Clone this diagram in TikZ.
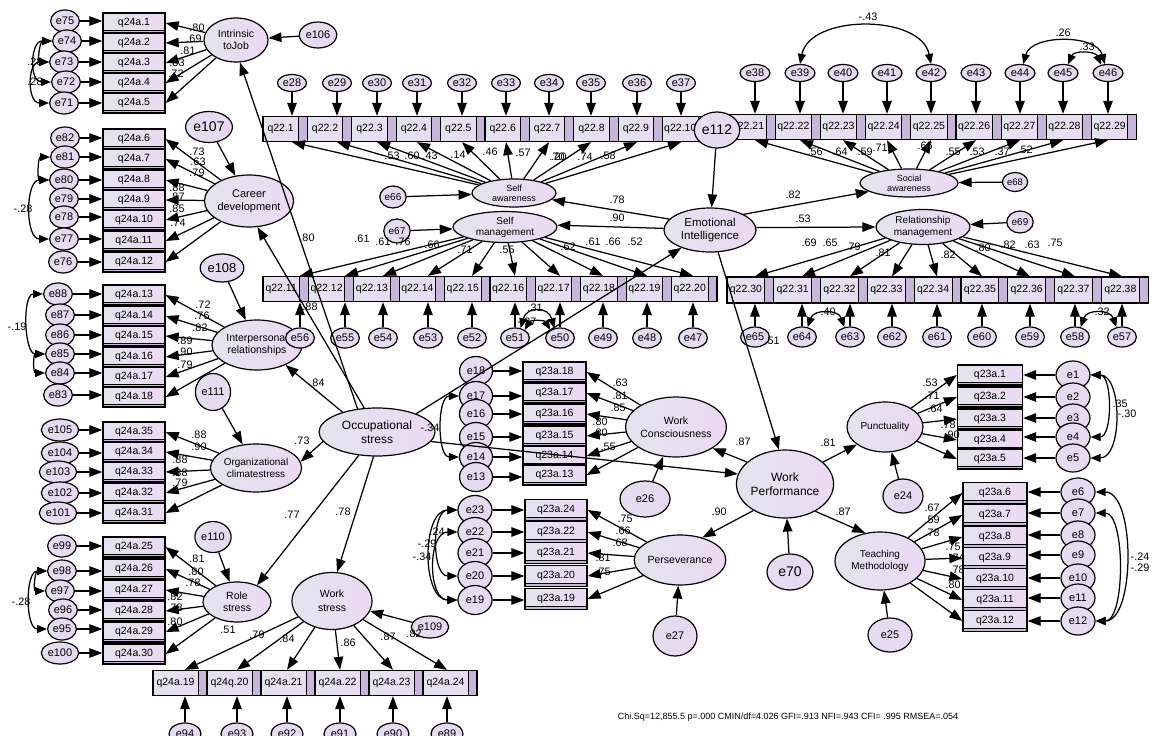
\documentclass[tikz,border=0pt]{standalone}
\usepackage{fontspec}
\setmainfont{Liberation Sans}
\usetikzlibrary{arrows.meta,shapes.geometric,calc}
\definecolor{fl}{HTML}{E2E4EE}
\definecolor{fr}{HTML}{EDD9F3}
\definecolor{strip}{HTML}{C8B6DA}
\definecolor{ef}{HTML}{E8D8F1}
\newcommand\lbx[2]{\hbox to #1pt{\hss #2\hss}\kern9pt}
\tikzset{
  ar/.style={-{Triangle[length=13pt,width=9.5pt]},line width=1.25pt},
  cv/.style={{Triangle[length=10pt,width=8pt]}-{Triangle[length=10pt,width=8pt]},line width=1.25pt},
  ind/.style={draw,line width=1.3pt,rectangle,left color=fl,right color=fr,inner sep=0pt,font=\fontsize{10.5}{11}\selectfont},
  indb/.style={ind,minimum width=62,minimum height=20,path picture={\fill[strip] (path picture bounding box.south west) rectangle ([yshift=3pt]path picture bounding box.south east);\draw[line width=0.7pt] ([yshift=3pt]path picture bounding box.south west) -- ([yshift=3pt]path picture bounding box.south east);}},
  indr/.style={ind,minimum height=25,path picture={\fill[strip] ([xshift=-9pt]path picture bounding box.north east) rectangle (path picture bounding box.south east);\draw[line width=1pt] ([xshift=-9pt]path picture bounding box.north east) -- ([xshift=-9pt]path picture bounding box.south east);}},
  err/.style={draw,ellipse,line width=1.2pt,left color=fl!50!ef,right color=ef,inner sep=1pt,minimum width=27,minimum height=22,font=\fontsize{11}{12}\selectfont},
  errs/.style={err,minimum width=29,minimum height=17,inner ysep=0pt},
  errc/.style={err,minimum width=33,minimum height=29},
  lat/.style={draw,ellipse,line width=1.2pt,left color=fl,right color=fr,inner sep=0pt,align=center,font=\fontsize{10.5}{12}\selectfont},
  lab/.style={inner sep=0pt,font=\fontsize{10.8}{11}\selectfont},
}
\begin{document}
\begin{tikzpicture}[x=1pt,y=-1pt]
\useasboundingbox (0,0) rectangle (1154,736);
% ---------- latent variables
\node[lat,minimum width=64,minimum height=44] (ij) at (236,40) {Intrinsic\\toJob};
\node[lat,minimum width=88,minimum height=52,font=\fontsize{11}{13}\selectfont] (cd) at (249,201) {Career\\development};
\node[lat,minimum width=90,minimum height=50] (ip) at (257,345) {Interpersonal\\relationships};
\node[lat,minimum width=88,minimum height=48,font=\fontsize{10}{12}\selectfont] (oc) at (256,468) {Organizational\\climatestress};
\node[lat,minimum width=68,minimum height=40,font=\fontsize{10.5}{12}\selectfont] (rs) at (237,602) {Role\\stress};
\node[lat,minimum width=80,minimum height=57,font=\fontsize{10.5}{14}\selectfont] (ws) at (332,601) {Work\\stress};
\node[lat,minimum width=116,minimum height=48,font=\fontsize{12}{14}\selectfont] (os) at (377,432) {Occupational\\stress};
\node[lat,minimum width=84,minimum height=28,font=\fontsize{9}{10}\selectfont] (sa) at (514,193) {Self\\awareness};
\node[lat,minimum width=104,minimum height=31,font=\fontsize{10}{11}\selectfont] (sm) at (505,227) {Self\\management};
\node[lat,minimum width=92,minimum height=44,font=\fontsize{11.5}{13}\selectfont] (ei) at (710,230) {Emotional\\Intelligence};
\node[lat,minimum width=98,minimum height=28,font=\fontsize{9}{10}\selectfont] (soa) at (909,183) {Social\\awareness};
\node[lat,minimum width=94,minimum height=35,font=\fontsize{10}{11.5}\selectfont] (rm) at (923,227) {Relationship\\management};
\node[lat,minimum width=96,minimum height=60,font=\fontsize{10.5}{13}\selectfont] (wc) at (676,427) {Work\\Consciousness};
\node[lat,minimum width=86,minimum height=50,font=\fontsize{10.5}{12}\selectfont] (pe) at (680,560) {Perseverance};
\node[lat,minimum width=92,minimum height=68,font=\fontsize{12}{14}\selectfont] (wp) at (785,484) {Work\\Performance};
\node[lat,minimum width=76,minimum height=50,font=\fontsize{10}{12}\selectfont] (pu) at (885,427) {Punctuality};
\node[lat,minimum width=90,minimum height=58,font=\fontsize{10}{12}\selectfont] (tm) at (880,561) {Teaching\\Methodology};
% ---------- left columns
\foreach \b/\y in {1/23,2/43,3/63,4/83,5/103,6/139,7/159,8/180,9/200,10/220,11/241,12/262,13/295,14/316,15/336,16/357,17/377,18/397,35/432,34/452,33/472,32/493,31/513,25/547,26/569,27/590,28/611,29/632,30/654}
  \node[indb] (a\b) at (134,\y) {q24a.\b};
\foreach \n/\x/\y/\b in {75/65/21/1,74/67/41/2,73/64/62/3,72/66/82/4,71/64/103/5,82/65/138/6,81/65/157/7,80/64/180/8,79/64/199/9,78/64/217/10,77/64/239/11,76/63/262/12,88/58/294/13,87/60/315/14,86/60/335/15,85/60/354/16,84/60/373/17,83/58/395/18,105/60/430/35,104/60/453/34,103/58/472/33,102/60/493/32,101/58/513/31,99/62/546/25,98/62/571/26,97/60/591/27,96/63/610/28,95/62/629/29,100/60/653/30}
  {\node[err] (e\n) at (\x,\y) {e\n}; \draw[ar] (e\n) -- (e\n -| a\b.west);}
\foreach \b in {1,...,5} \draw[ar] (ij) -- (a\b.east);
\foreach \b in {6,...,12} \draw[ar] (cd) -- (a\b.east);
\foreach \b in {13,...,18} \draw[ar] (ip) -- (a\b.east);
\foreach \b in {31,...,35} \draw[ar] (oc) -- (a\b.east);
\foreach \b in {25,...,30} \draw[ar] (rs) -- (a\b.east);
% ---------- bottom row (work stress)
\foreach \b/\t in {19/q24a.19,20/q24q.20,21/q24a.21,22/q24a.22,23/q24a.23,24/q24a.24}
  \node[indr,minimum width=54] (a\b) at ({153+54*(\b-18.5)},683) {\lbx{45}{\t}};
\foreach \n/\x in {94/185,93/237,92/287,91/340,90/393,89/447}
  {\pgfmathtruncatemacro\b{113-\n}\node[err,minimum width=32] (e\n) at (\x,734) {e\n};
   \draw[ar] (e\n) -- (e\n |- a\b.south); \draw[ar] (ws) -- (e\n |- a\b.north);}
% ---------- q22 rows
\foreach \k in {1,...,10} \node[indr,minimum width=44.4] (p\k) at ({263+44.4*(\k-0.5)},129) {\lbx{35.4}{q22.\k}};
\foreach \k in {11,...,20} \node[indr,minimum width=45.4] (p\k) at ({263+45.4*(\k-10.5)},289) {\lbx{36.4}{q22.\k}};
\foreach \k in {21,...,29} \node[indr,minimum width=45.2] (p\k) at ({730+45.2*(\k-20.5)},127) {\lbx{36.2}{q22.\k}};
\foreach \k in {30,...,38} \node[indr,minimum width=46.8,minimum height=26] (p\k) at ({727+46.8*(\k-29.5)},290) {\lbx{37.8}{q22.\k}};
\foreach \n/\x in {28/292,29/337,30/377,31/417,32/462,33/506,34/549,35/591,36/637,37/681}
  {\pgfmathtruncatemacro\b{\n-27}\node[errs] (e\n) at (\x,83) {e\n};
   \draw[ar] (e\n) -- (e\n |- p\b.north); \draw[ar] (sa) -- (e\n |- p\b.south);}
\foreach \n/\x in {56/300,55/345,54/383,53/428,52/472,51/515,50/560,49/603,48/647,47/693}
  {\pgfmathtruncatemacro\b{67-\n}\node[err,minimum width=28,minimum height=20] (e\n) at (\x,338) {e\n};
   \draw[ar] (e\n) -- (e\n |- p\b.south); \draw[ar] (sm) -- (e\n |- p\b.north);}
\foreach \n/\x in {38/755,39/800,40/843,41/887,42/931,43/976,44/1020,45/1063,46/1108}
  {\pgfmathtruncatemacro\b{\n-17}\node[errs,minimum width=30] (e\n) at (\x,73) {e\n};
   \draw[ar] (e\n) -- (e\n |- p\b.north); \draw[ar] (soa) -- (e\n |- p\b.south);}
\foreach \n/\x in {65/755,64/802,63/850,62/892,61/937,60/982,59/1030,58/1075,57/1122}
  {\pgfmathtruncatemacro\b{95-\n}\node[err,minimum width=28,minimum height=20] (e\n) at (\x,337) {e\n};
   \draw[ar] (e\n) -- (e\n |- p\b.south); \draw[ar] (rm) -- (e\n |- p\b.north);}
% ---------- work performance clusters
\foreach \k/\y in {18/372,17/393,16/414,15/436,14/456,13/475}
  {\node[indb,minimum width=63] (b\k) at (554.5,\y) {q23a.\k};}
\foreach \k/\y in {18/371,17/396,16/414,15/437,14/457,13/477}
  {\node[errc] (e\k) at (476,\y) {e\k}; \draw[ar] (e\k) -- (e\k -| b\k.west); \draw[ar] (wc) -- (b\k.east);}
\foreach \k/\y in {24/510,22/532,21/553,20/576,19/599}
  {\node[indb,minimum height=21] (b\k) at (556,\y) {q23a.\k};}
\foreach \n/\k/\y in {23/24/510,22/22/532,21/21/553,20/20/576,19/19/600}
  {\node[errc,minimum width=34] (e\n) at (475,\y) {e\n}; \draw[ar] (e\n) -- (e\n -| b\k.west); \draw[ar] (pe) -- (b\k.east);}
\foreach \k/\y in {1/375,2/397,3/419,4/440,5/459}
  {\node[indb,minimum width=65] (c\k) at (990,\y) {q23a.\k};}
\foreach \k/\y in {1/375,2/397,3/418,4/437,5/458}
  {\node[errc,minimum width=34,minimum height=28] (e\k) at (1073,\y) {e\k}; \draw[ar] (e\k) -- (e\k -| c\k.east); \draw[ar] (pu) -- (c\k.west);}
\foreach \k/\y in {6/493,7/515,8/537,9/558,10/579,11/600,12/621}
  {\node[indb,minimum width=64,minimum height=21] (c\k) at (995,\y) {q23a.\k};}
\foreach \k/\y in {6/492,7/513,8/535,9/555,10/578,11/598,12/621}
  {\node[errc,minimum width=34,minimum height=28] (e\k) at (1078,\y) {e\k}; \draw[ar] (e\k) -- (e\k -| c\k.east); \draw[ar] (tm) -- (c\k.west);}
% ---------- other error terms
\node[err,minimum width=29,minimum height=26] (e106) at (318,35) {e106};
\node[err,minimum width=34,minimum height=31,font=\fontsize{14}{15}\selectfont] (e107) at (209,127) {e107};
\node[err,minimum width=30,minimum height=28,font=\fontsize{13}{14}\selectfont] (e108) at (222,268) {e108};
\node[err,minimum width=33,minimum height=37] (e111) at (213,392) {e111};
\node[err,minimum width=32,minimum height=31] (e110) at (213,537) {e110};
\node[err,minimum width=34,minimum height=22] (e109) at (430,627) {e109};
\node[err,minimum width=30,minimum height=36,font=\fontsize{14}{15}\selectfont] (e112) at (717,130) {e112};
\node[err,minimum width=46,minimum height=36,font=\fontsize{14}{15}\selectfont] (e70) at (790,572) {e70};
\node[err,minimum width=50,minimum height=36] (e26) at (645,499) {e26};
\node[err,minimum width=44,minimum height=40] (e27) at (675,636) {e27};
\node[err,minimum width=40,minimum height=34] (e24) at (903,496) {e24};
\node[err,minimum width=44,minimum height=34] (e25) at (890,635) {e25};
\node[err,minimum width=22,minimum height=22,font=\fontsize{10}{11}\selectfont] (e66) at (393,197) {e66};
\node[err,minimum width=24,minimum height=24,font=\fontsize{10}{11}\selectfont] (e67) at (397,231) {e67};
\node[err,minimum width=20,minimum height=19,font=\fontsize{9.5}{10}\selectfont] (e68) at (1015,182) {e68};
\node[err,minimum width=22,minimum height=22,font=\fontsize{10}{11}\selectfont] (e69) at (1020,222) {e69};
\foreach \s/\t in {e106/ij,e107/cd,e108/ip,e111/oc,e110/rs,e109/ws,e112/ei,e70/wp,e26/wc,e27/pe,e24/pu,e25/tm,e66/sa,e67/sm,e68/soa,e69/rm}
  \draw[ar] (\s) -- (\t);
% ---------- structural paths
\draw[ar] (os.130) -- (ij.280);
\draw[ar] (os.118) -- (cd.288);
\draw[ar] (os.150) -- (ip.325);
\draw[ar] (os.190) -- (oc.8);
\draw[ar] (os.232) -- (rs.40);
\draw[ar] (os.262) -- (ws.80);
\draw[ar] (os.25) -- (ei.212);
\draw[ar] (os.350) -- (wp.168);
\draw[ar] (ei.165) -- (sa.350);
\draw[ar] (ei.178) -- (sm.2);
\draw[ar] (ei.25) -- (soa.192);
\draw[ar] (ei.3) -- (rm.180);
\draw[ar] (ei.290) -- (wp.100);
\draw[ar] (wp.150) -- (wc.330);
\draw[ar] (wp.220) -- (pe.45);
\draw[ar] (wp.30) -- (pu.212);
\draw[ar] (wp.318) -- (tm.118);
% ---------- covariances
\draw[cv] (e74.west) .. controls +(-22,0) and +(-22,0) .. (e72.west);
\draw[cv] (e73.west) .. controls +(-22,0) and +(-22,0) .. (e71.west);
\draw[cv] (e74.west) .. controls +(-12,0) and +(-12,0) .. (e73.west);
\draw[cv] (e80.west) .. controls +(-24,0) and +(-24,0) .. (e77.west);
\draw[cv] (e81.west) .. controls +(-12,0) and +(-12,0) .. (e80.west);
\draw[cv] (e88.west) .. controls +(-21,0) and +(-21,0) .. (e85.west);
\draw[cv] (e85.west) .. controls +(-12,0) and +(-12,0) .. (e84.west);
\draw[cv] (e98.west) .. controls +(-22,0) and +(-22,0) .. (e95.west);
\draw[cv] (e98.west) .. controls +(-12,0) and +(-12,0) .. (e97.west);
\draw[cv] (e17.west) .. controls +(-22,0) and +(-22,0) .. (e14.west);
\draw[cv] (e23.west) .. controls +(-26,0) and +(-26,0) .. (e20.west);
\draw[cv] (e22.west) .. controls +(-30,0) and +(-30,0) .. (e19.west);
\draw[cv] (e23.west) .. controls +(-36,0) and +(-36,0) .. (e19.west);
\draw[cv] (e1.east) .. controls +(22,0) and +(22,0) .. (e4.east);
\draw[cv] (e1.east) .. controls +(32,0) and +(32,0) .. (e5.east);
\draw[cv] (e6.east) .. controls +(40,0) and +(40,0) .. (e12.east);
\draw[cv] (e7.east) .. controls +(30,0) and +(30,0) .. (e12.east);
\draw[cv] (e39.north) .. controls +(10,-50) and +(-10,-50) .. (e42.north);
\draw[cv] (e44.70) .. controls +(8,-30) and +(-8,-30) .. (e46.110);
\draw[cv] (e45.60) .. controls +(6,-14) and +(-6,-14) .. (e46.130);
\draw[cv] (e64.60) .. controls +(6,-18) and +(-6,-18) .. (e63.120);
\draw[cv] (e58.60) .. controls +(6,-18) and +(-6,-18) .. (e57.120);
\draw[cv] (e51.60) .. controls +(6,-22) and +(-6,-22) .. (e50.120);
\draw[cv] (e51.40) .. controls +(6,-10) and +(-6,-10) .. (e50.140);
% ---------- coefficient labels
\foreach \x/\y/\t [count=\k] in {197/28/.80,194/39/.69,188/51/.81,177/63/.83,176/74/.72,
  197/152/.73,198/162/.63,197/173/.79,177/188/.88,177/197/.87,177/209/.85,178/223/.74,
  203/305/.72,202/316/.76,200/328/.82,185/341/.89,185/352/.90,185/365/.79,
  199/435/.88,199/447/.90,180/460/.88,180/473/.88,180/483/.79,
  197/559/.81,196/572/.80,193/583/.78,175/597/.82,175/608/.78,175/622/.80,
  228/630/.51,257/635/.79,287/639/.84,348/643/.86,388/637/.87,414/634/.82,
  307/238/.80,310/307/.88,317/383/.84,302/441/.73,292/515/.77,343/512/.78,430/428/-.34,
  392/156/.53,412/156/.60,430/156/.43,458/155/.14,490/152/.46,523/153/.57,557/157/.70,559/157/.20,585/157/.74,608/156/.58,
  362/239/.61,383/242/.61,403/242/.76,432/245/.66,465/250/.71,507/250/.55,568/247/.62,593/242/.61,613/242/.66,635/242/.52,
  815/152/.56,840/152/.64,865/152/.59,880/148/.71,925/146/.66,953/152/.55,977/152/.53,1002/152/.37,1025/150/.52,
  809/243/.69,830/243/.65,853/247/.79,883/253/.81,948/255/.82,983/248/.80,1008/245/.82,1032/245/.63,1055/243/.75,
  617/200/.78,617/218/.90,793/195/.82,803/219/.53,772/341/.51,
  620/383/.63,620/396/.81,618/408/.85,600/422/.80,600/433/.80,608/447/.55,
  625/519/.75,623/531/.66,620/543/.68,603/558/.81,603/572/.75,
  743/442/.87,719/512/.90,828/443/.81,843/512/.87,
  930/383/.53,932/396/.71,935/409/.64,948/425/.78,952/435/.90,
  932/508/.67,932/520/.59,932/533/.78,953/547/.75,957/558/.74,957/570/.78,953/585/.80,
  35/62/.28,35/82/.28,23/209/-.28,17/327/-.19,21/602/-.28,868/17/-.43,1063/33/.26,1087/47/.33,
  828/312/.40,1102/312/.32,535/308/.31,527/322/-.27,437/532/.24,427/544/-.29,422/557/-.34,
  1120/404/.35,1127/414/-.30,1140/557/-.24,1140/568/-.29}
  \node[lab] (L\k) at (\x,\y) {\t};
\node[inner sep=0pt,font=\fontsize{9}{10}\selectfont] (fit) at (788,717) {Chi.Sq=12,855.5 p=.000 CMIN/df=4.026 GFI=.913 NFI=.943 CFI= .995 RMSEA=.054};
\end{tikzpicture}
\end{document}
